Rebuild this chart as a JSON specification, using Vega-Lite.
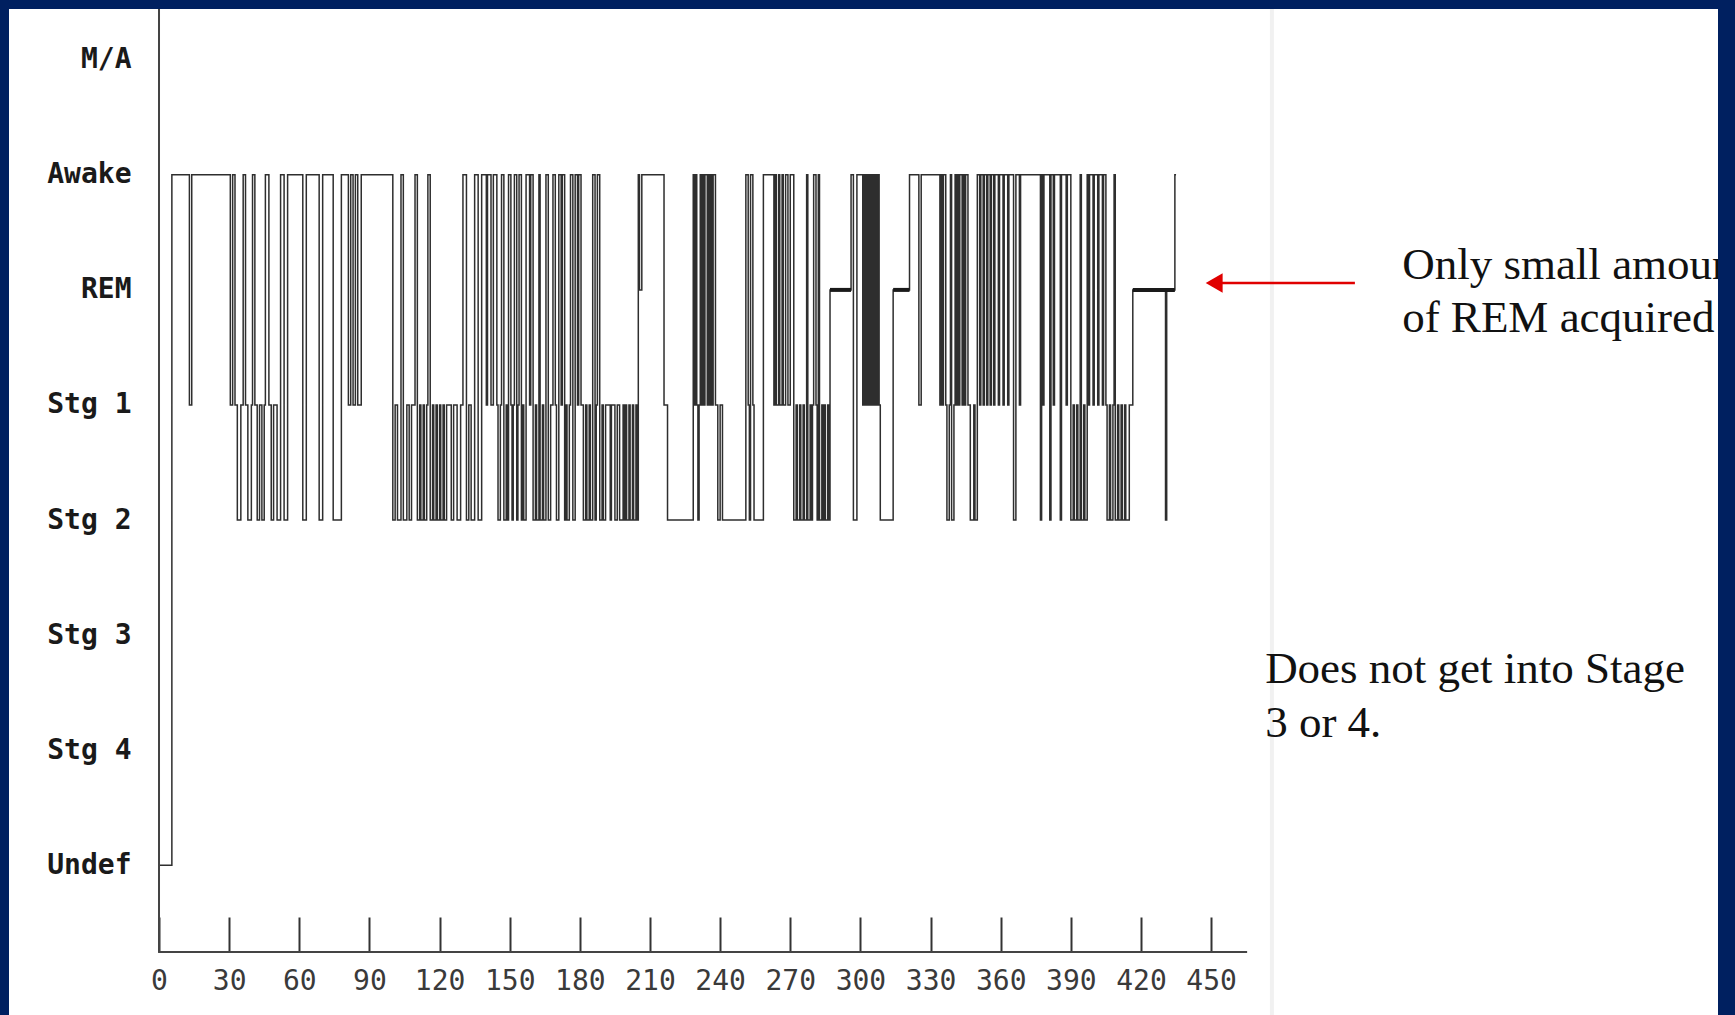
{
  "$schema": "https://vega.github.io/schema/vega-lite/v6.json",
  "width": 1709,
  "height": 1006,
  "autosize": {"type": "none"},
  "padding": {"left": 9, "top": 9, "right": 17, "bottom": 0},
  "background": "#002060",
  "config": {"view": {"stroke": null, "fill": "white"}, "axis": {"grid": false}},
  "encoding": {
    "x": {"field": "t", "type": "quantitative", "scale": {"domain": [-64.16, 666.8], "nice": false, "zero": false},
      "axis": {"orient": "bottom", "offset": -98, "values": [0,30,60,90,120,150,180,210,240,270,300,330,360,390,420,450], "format": "d", "domain": false, "ticks": true, "tickSize": 35, "tickWidth": 2, "tickColor": "#333333", "labelPadding": 15, "labelFont": "DejaVu Sans Mono", "labelFontSize": 28, "labelColor": "#3a3a3a", "labelOverlap": false, "labelFlush": false, "title": null}},
    "y": {"field": "s", "type": "quantitative", "scale": {"domain": [-1.301, 7.441], "nice": false, "zero": false},
      "axis": {"orient": "left", "offset": -150, "values": [0,1,2,3,4,5,6,7], "labelExpr": "['Undef','Stg 4','Stg 3','Stg 2','Stg 1','REM','Awake','M/A'][datum.value]", "domain": false, "ticks": false, "tickSize": 0, "labelPadding": 28, "labelFont": "DejaVu Sans Mono", "labelFontWeight": "bold", "labelFontSize": 28, "labelColor": "#1a1a1a", "labelAlign": "right", "labelBaseline": "middle", "labelOverlap": false, "title": null}}
  },
  "layer": [
    {
      "data": {"values": [{"t": 476, "s": -1.301, "s2": 7.441}]},
      "mark": {"type": "rule", "color": "#f1f1f1", "strokeWidth": 4},
      "encoding": {"y2": {"field": "s2"}}
    },
    {
      "data": {"values": [
        {"t":0,"s":0},{"t":5.5,"s":6},{"t":13,"s":4},{"t":14,"s":6},{"t":30.5,"s":4},{"t":31.5,"s":6},{"t":32.5,"s":4},{"t":33.5,"s":3},{"t":35,"s":4},{"t":36,"s":6},{"t":37,"s":4},{"t":38,"s":3},{"t":39.5,"s":4},{"t":40,"s":6},{"t":41,"s":4},{"t":42,"s":3},{"t":43,"s":4},{"t":44,"s":3},{"t":45,"s":4},{"t":45.5,"s":6},{"t":47,"s":4},{"t":48,"s":3},{"t":49,"s":4},{"t":50.5,"s":3},{"t":52,"s":6},{"t":53.5,"s":3},{"t":55,"s":6},{"t":61.5,"s":3},{"t":63,"s":6},{"t":68.5,"s":3},{"t":70,"s":6},{"t":74.5,"s":3},{"t":78,"s":6},{"t":81,"s":4},{"t":82,"s":6},{"t":83,"s":4},{"t":84,"s":6},{"t":85,"s":4},{"t":86.5,"s":6},
        {"t":100,"s":3},{"t":101,"s":4},{"t":102,"s":3},{"t":103.5,"s":6},{"t":104.5,"s":3},{"t":106,"s":4},{"t":107,"s":3},{"t":108,"s":4},{"t":109.5,"s":6},{"t":110.5,"s":3},{"t":111.5,"s":4},{"t":112,"s":3},{"t":113,"s":4},{"t":113.5,"s":3},{"t":114.5,"s":4},{"t":115,"s":6},{"t":116,"s":3},{"t":117,"s":4},{"t":117.5,"s":3},{"t":118.5,"s":4},{"t":119,"s":3},{"t":120,"s":4},{"t":120.5,"s":3},{"t":121.5,"s":4},{"t":122,"s":3},{"t":123,"s":4},{"t":125,"s":3},{"t":126,"s":4},{"t":127.5,"s":3},{"t":129,"s":4},{"t":130,"s":6},{"t":131.5,"s":3},{"t":132.5,"s":4},{"t":133.5,"s":3},{"t":135,"s":6},{"t":136.5,"s":3},{"t":138,"s":6},{"t":140,"s":4},{"t":140.5,"s":6},{"t":142,"s":4},{"t":143,"s":6},{"t":144.5,"s":4},
        {"t":145,"s":3},{"t":146,"s":4},{"t":146.5,"s":6},{"t":147.5,"s":3},{"t":148.5,"s":4},{"t":149,"s":3},{"t":149.5,"s":6},{"t":150.5,"s":4},{"t":151,"s":3},{"t":151.5,"s":4},{"t":152,"s":6},{"t":153,"s":3},{"t":153.5,"s":4},{"t":154,"s":6},{"t":155,"s":3},{"t":155.5,"s":4},{"t":156,"s":3},{"t":157,"s":6},{"t":158.5,"s":4},{"t":159,"s":6},{"t":160,"s":3},{"t":161,"s":4},{"t":161.5,"s":3},{"t":162.5,"s":6},{"t":163,"s":3},{"t":164,"s":4},{"t":164.5,"s":3},{"t":165.5,"s":6},{"t":166.5,"s":3},{"t":167.5,"s":4},{"t":168.5,"s":6},{"t":169.5,"s":4},{"t":170,"s":3},{"t":171,"s":6},{"t":172,"s":4},{"t":172.5,"s":6},{"t":173.5,"s":3},{"t":174,"s":4},{"t":174.5,"s":3},{"t":175.5,"s":4},{"t":176,"s":6},{"t":177,"s":3},{"t":178,"s":6},{"t":179,"s":4},{"t":179.5,"s":6},{"t":180.5,"s":4},{"t":181.5,"s":3},{"t":182.5,"s":4},{"t":183,"s":3},{"t":184,"s":4},{"t":184.5,"s":3},{"t":185.5,"s":6},{"t":186.5,"s":3},{"t":187,"s":4},{"t":187.5,"s":6},{"t":188.5,"s":3},{"t":189.5,"s":4},{"t":190,"s":3},{"t":191,"s":4},{"t":193,"s":3},{"t":193.5,"s":4},{"t":195,"s":3},{"t":196,"s":4},{"t":197,"s":3},{"t":198.5,"s":4},{"t":199,"s":3},{"t":199.5,"s":4},{"t":200,"s":3},{"t":201,"s":4},{"t":201.5,"s":3},{"t":202.5,"s":4},{"t":203,"s":3},{"t":204,"s":4},{"t":204.5,"s":3},{"t":205,"s":6},{"t":205.5,"s":5},{"t":206.5,"s":6},
        {"t":216,"s":4},{"t":217.5,"s":3},{"t":228.5,"s":6},{"t":229,"s":4},{"t":229.5,"s":6},{"t":230,"s":4},{"t":230.5,"s":3},{"t":231,"s":4},{"t":231.5,"s":6},{"t":232,"s":4},{"t":232.5,"s":6},{"t":233,"s":4},{"t":233.5,"s":6},{"t":234.5,"s":4},{"t":235,"s":6},{"t":235.5,"s":4},{"t":236,"s":6},{"t":236.5,"s":4},{"t":237,"s":6},{"t":238,"s":4},{"t":239,"s":3},{"t":240,"s":4},{"t":241,"s":3},{"t":251,"s":6},{"t":252,"s":4},{"t":252.5,"s":3},{"t":253,"s":6},{"t":254,"s":4},{"t":254.5,"s":3},{"t":258.5,"s":6},{"t":263,"s":4},{"t":263.5,"s":6},{"t":264,"s":4},{"t":265,"s":6},{"t":265.5,"s":4},{"t":266.5,"s":6},{"t":267,"s":4},{"t":268,"s":6},{"t":269,"s":4},{"t":270,"s":6},{"t":271.5,"s":3},{"t":272.5,"s":4},{"t":273,"s":3},{"t":274,"s":4},{"t":274.5,"s":3},{"t":275.5,"s":4},{"t":276,"s":3},{"t":277,"s":6},{"t":277.5,"s":3},{"t":278.5,"s":4},{"t":279,"s":3},{"t":279.5,"s":4},{"t":280,"s":6},{"t":281,"s":4},{"t":281.5,"s":3},{"t":282,"s":6},{"t":282.5,"s":3},{"t":283.5,"s":4},{"t":284,"s":3},{"t":284.5,"s":4},{"t":285,"s":3},{"t":286,"s":4},{"t":286.5,"s":3},{"t":287,"s":5},
        {"t":296,"s":6},{"t":297,"s":3},{"t":298.5,"s":6},{"t":301,"s":4},{"t":301.5,"s":6},{"t":302,"s":4},{"t":302.5,"s":6},{"t":303,"s":4},{"t":303.5,"s":6},{"t":304,"s":4},{"t":304.5,"s":6},{"t":305,"s":4},{"t":305.5,"s":6},{"t":306,"s":4},{"t":306.5,"s":6},{"t":307,"s":4},{"t":307.5,"s":6},{"t":308,"s":4},{"t":308.5,"s":3},{"t":314,"s":5},{"t":321,"s":6},{"t":325,"s":4},{"t":326,"s":6},
        {"t":334,"s":4},{"t":334.5,"s":6},{"t":335,"s":4},{"t":335.5,"s":6},{"t":336.5,"s":4},{"t":337,"s":3},{"t":338,"s":4},{"t":338.5,"s":6},{"t":339,"s":3},{"t":340,"s":4},{"t":340.5,"s":6},{"t":341,"s":4},{"t":341.5,"s":6},{"t":342,"s":4},{"t":342.5,"s":6},{"t":343.5,"s":4},{"t":344,"s":6},{"t":344.5,"s":4},{"t":345,"s":6},{"t":346,"s":4},{"t":347,"s":3},{"t":348.5,"s":4},{"t":349,"s":3},{"t":350,"s":6},{"t":351,"s":4},{"t":351.5,"s":6},{"t":352.5,"s":4},{"t":353,"s":6},{"t":354,"s":4},{"t":354.5,"s":6},{"t":355.5,"s":4},{"t":356,"s":6},{"t":357,"s":4},{"t":357.5,"s":6},{"t":359,"s":4},{"t":359.5,"s":6},{"t":361,"s":4},{"t":361.5,"s":6},{"t":363,"s":4},{"t":363.5,"s":6},{"t":365.5,"s":3},{"t":366.5,"s":6},{"t":368,"s":4},{"t":368.5,"s":6},
        {"t":377,"s":3},{"t":377.5,"s":6},{"t":378,"s":4},{"t":378.5,"s":6},{"t":381,"s":3},{"t":381.5,"s":6},{"t":382.5,"s":4},{"t":383,"s":6},{"t":385.5,"s":3},{"t":386,"s":6},{"t":388,"s":4},{"t":388.5,"s":6},{"t":390,"s":3},{"t":391,"s":4},{"t":391.5,"s":3},{"t":392.5,"s":4},{"t":393,"s":3},{"t":394,"s":6},{"t":394.5,"s":3},{"t":395.5,"s":4},{"t":396,"s":3},{"t":397,"s":6},{"t":397.5,"s":4},{"t":398,"s":6},{"t":399.5,"s":4},{"t":400,"s":6},{"t":401.5,"s":4},{"t":402,"s":6},{"t":403.5,"s":4},{"t":404,"s":6},{"t":405,"s":4},{"t":405.5,"s":3},{"t":406.5,"s":4},{"t":407,"s":3},{"t":408,"s":4},{"t":408.5,"s":6},{"t":409,"s":3},{"t":410,"s":4},{"t":410.5,"s":3},{"t":411.5,"s":4},{"t":412,"s":3},{"t":413,"s":4},{"t":413.5,"s":3},{"t":415,"s":4},{"t":416.5,"s":5},{"t":430.5,"s":3},{"t":431,"s":5},{"t":434.5,"s":6},{"t":435,"s":6}
      ]},
      "mark": {"type": "line", "interpolate": "step-after", "color": "#2e2e2e", "strokeWidth": 1.5}
    },
    {
      "data": {"values": [{"t": 0, "s": -0.753, "s2": 7.441}]},
      "mark": {"type": "rule", "color": "#444444", "strokeWidth": 2},
      "encoding": {"y2": {"field": "s2"}}
    },
    {
      "data": {"values": [{"t": -0.4, "t2": 465.4, "s": -0.753}]},
      "mark": {"type": "rule", "color": "#444444", "strokeWidth": 2},
      "encoding": {"x2": {"field": "t2"}}
    },
    {
      "data": {"values": [{"t": 287, "t2": 296, "s": 5}, {"t": 314, "t2": 321, "s": 5}, {"t": 416.5, "t2": 434.5, "s": 5}]},
      "mark": {"type": "rule", "color": "#1a1a1a", "strokeWidth": 4},
      "encoding": {"x2": {"field": "t2"}}
    },
    {
      "data": {"values": [{"t": 451, "t2": 511.5, "s": 5.06}]},
      "mark": {"type": "rule", "color": "#e00000", "strokeWidth": 2.5},
      "encoding": {"x2": {"field": "t2"}}
    },
    {
      "data": {"values": [{"t": 451.3, "s": 5.06}]},
      "mark": {"type": "point", "shape": "triangle-left", "filled": true, "color": "#e00000", "size": 380, "opacity": 1}
    },
    {
      "data": {"values": [
        {"t": 531.7, "s": 5.095, "label": "Only small amount"},
        {"t": 531.7, "s": 4.634, "label": "of REM acquired"},
        {"t": 473.1, "s": 1.584, "label": "Does not get into Stage"},
        {"t": 473.1, "s": 1.115, "label": "3 or 4."}
      ]},
      "mark": {"type": "text", "font": "Liberation Serif", "fontSize": 45, "align": "left", "baseline": "alphabetic", "color": "#111111", "clip": true},
      "encoding": {"text": {"field": "label"}}
    }
  ]
}
